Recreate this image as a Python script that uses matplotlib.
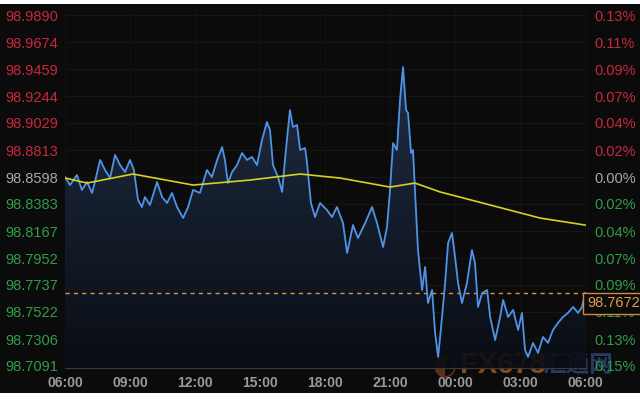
import numpy as np
import matplotlib.pyplot as plt
from matplotlib.patches import Rectangle
from matplotlib.colors import LinearSegmentedColormap
from matplotlib import transforms

# Data (hours after 06:00, price)
hours = [0.00, 0.23, 0.55, 0.78, 1.02, 1.25, 1.38, 1.62, 1.85, 2.08,
         2.31, 2.54, 2.77, 3.00, 3.18, 3.37, 3.55, 3.69, 3.92, 4.25,
         4.48, 4.71, 4.94, 5.17, 5.45, 5.68, 5.91, 6.23, 6.55, 6.78,
         7.02, 7.25, 7.38, 7.52, 7.71, 7.94, 8.17, 8.40, 8.63, 8.86,
         9.09, 9.32, 9.46, 9.60, 9.83, 10.02, 10.15, 10.38, 10.52, 10.71,
         10.85, 11.08, 11.17, 11.35, 11.54, 11.77, 12.09, 12.32, 12.55, 12.83,
         13.02, 13.29, 13.52, 13.85, 14.17, 14.40, 14.68, 14.86, 15.00, 15.14,
         15.32, 15.46, 15.60, 15.74, 15.83, 15.97, 16.06, 16.15, 16.29, 16.48,
         16.62, 16.75, 16.94, 17.08, 17.22, 17.40, 17.54, 17.68, 17.86, 18.00,
         18.14, 18.32, 18.55, 18.78, 18.92, 19.06, 19.25, 19.48, 19.62, 19.85,
         20.08, 20.22, 20.45, 20.68, 20.91, 21.09, 21.23, 21.37, 21.60, 21.83,
         22.06, 22.29, 22.52, 22.75, 22.98, 23.21, 23.45, 23.68, 23.86, 24.00]
price = [98.8598, 98.8534, 98.8614, 98.8495, 98.8558, 98.8471, 98.8558, 98.8734, 98.8654, 98.8590,
         98.8774, 98.8694, 98.8638, 98.8734, 98.8654, 98.8415, 98.8359, 98.8439, 98.8375, 98.8558,
         98.8439, 98.8391, 98.8471, 98.8359, 98.8271, 98.8359, 98.8495, 98.8471, 98.8654, 98.8598,
         98.8734, 98.8837, 98.8734, 98.8550, 98.8638, 98.8694, 98.8790, 98.8734, 98.8758, 98.8694,
         98.8893, 98.9037, 98.8973, 98.8694, 98.8598, 98.8479, 98.8734, 98.9132, 98.8997, 98.9013,
         98.8814, 98.8829, 98.8710, 98.8391, 98.8279, 98.8391, 98.8335, 98.8279, 98.8359, 98.8231,
         98.7992, 98.8215, 98.8112, 98.8231, 98.8359, 98.8231, 98.8040, 98.8200, 98.8495, 98.8869,
         98.8814, 98.9212, 98.9475, 98.9132, 98.9109, 98.8790, 98.8814, 98.8495, 98.8016, 98.7697,
         98.7881, 98.7593, 98.7697, 98.7354, 98.7163, 98.7482, 98.7753, 98.8072, 98.8152, 98.7960,
         98.7753, 98.7593, 98.7753, 98.8016, 98.7912, 98.7562, 98.7673, 98.7697, 98.7482, 98.7298,
         98.7482, 98.7617, 98.7482, 98.7538, 98.7378, 98.7514, 98.7219, 98.7163, 98.7275, 98.7195,
         98.7322, 98.7275, 98.7378, 98.7434, 98.7482, 98.7514, 98.7562, 98.7514, 98.7562, 98.7672]

ma_hours = [0.0, 1.02, 3.14, 5.91, 8.54, 10.85, 12.69, 15.0, 16.15, 17.31, 19.62, 21.92, 24.0]
ma_price = [98.8590, 98.8550, 98.8622, 98.8534, 98.8574, 98.8622, 98.8590, 98.8518, 98.8550,
            98.8479, 98.8375, 98.8271, 98.8215]

y_ticks = [98.9890, 98.9674, 98.9459, 98.9244, 98.9029, 98.8813, 98.8598,
           98.8383, 98.8167, 98.7952, 98.7737, 98.7522, 98.7306, 98.7091]
pct_labels = ["0.13%", "0.11%", "0.09%", "0.07%", "0.04%", "0.02%", "0.00%",
              "0.02%", "0.04%", "0.07%", "0.09%", "0.11%", "0.13%", "0.15%"]
x_ticks = [0, 3, 6, 9, 12, 15, 18, 21, 24]
x_labels = ["06:00", "09:00", "12:00", "15:00", "18:00", "21:00", "00:00", "03:00", "06:00"]
base_price = 98.8598
last_price = 98.7672

RED = "#c8283c"
GREEN = "#2f9e46"
GRAY = "#a8a8a8"
Y_LO, Y_HI = 98.7075, 98.9946
X_HI = 24.09


def label_color(v):
    if abs(v - base_price) < 1e-6:
        return GRAY
    return RED if v > base_price else GREEN


plt.rcParams["font.family"] = ["Liberation Sans", "DejaVu Sans"]

fig = plt.figure(figsize=(6.4, 4.0), dpi=100, facecolor="white")
fig.patches.append(Rectangle((0, 7 / 400), 1, 389 / 400, transform=fig.transFigure,
                             facecolor="#0b0b0c", edgecolor="none", zorder=-10))

# watermark (behind everything else)
fig.text(445 / 640, 1 - 365 / 400, "◐", fontsize=20, color="#c85a20", alpha=0.45,
         ha="center", va="center", family=["DejaVu Sans"], zorder=-5)
fig.text(460 / 640, 1 - 365 / 400, "FX678", fontsize=21, color="#d07a2c", alpha=0.6,
         ha="left", va="center", fontweight="bold", zorder=-5)
fig.text(542 / 640, 1 - 365 / 400, "汇通网", fontsize=17, color="#3f62a8", alpha=0.55,
         ha="left", va="center", family=["Noto Sans CJK SC"], fontweight="bold", zorder=-5)

ax = fig.add_axes([65 / 640, 32 / 400, 522 / 640, 360 / 400])
ax.set_facecolor("none")

# gradient fill under the price line
poly = ax.fill_between(hours, price, Y_LO, color="none")
grad = np.linspace(1, 0, 256).reshape(-1, 1)
cmap = LinearSegmentedColormap.from_list("g", ["#0a0d14", "#22324c"])
img = ax.imshow(grad, extent=[0, X_HI, Y_LO, 98.95], aspect="auto",
                cmap=cmap, zorder=1, origin="upper", alpha=0.9)
img.set_clip_path(poly.get_paths()[0], transform=ax.transData)
ax.set_xlim(0, X_HI)
ax.set_ylim(Y_LO, Y_HI)

for yv in y_ticks:
    ax.axhline(yv, color="#161616", lw=0.8, zorder=0.5)
for xv in x_ticks:
    ax.axvline(xv, color="#121212", lw=0.8, zorder=0.5)

ax.plot(hours, price, color="#4f93e6", lw=1.3, zorder=3)
ax.plot(ma_hours, ma_price, color="#d9d024", lw=1.2, zorder=4)
ax.axhline(last_price, color="#d8984c", lw=1, dashes=(3, 3), zorder=2)

for s in ["top", "right", "left"]:
    ax.spines[s].set_visible(False)
ax.spines["bottom"].set_color("#3a3a3a")

ax.set_yticks(y_ticks)
ax.set_yticklabels([f"{v:.4f}" for v in y_ticks], fontsize=10.5)
for lbl, v in zip(ax.get_yticklabels(), y_ticks):
    lbl.set_color(label_color(v))
ax.tick_params(axis="y", length=0, pad=5)
ax.set_xticks(x_ticks)
ax.set_xticklabels(x_labels, fontsize=10, color="#9a9a9a", fontweight="bold")
ax.tick_params(axis="x", length=0, pad=6)

ax2 = ax.twinx()
ax2.set_ylim(ax.get_ylim())
ax2.set_yticks(y_ticks)
ax2.set_yticklabels(pct_labels, fontsize=10.5)
for lbl, v in zip(ax2.get_yticklabels(), y_ticks):
    lbl.set_color(label_color(v))
ax2.tick_params(axis="y", length=0, pad=5)
for s in ax2.spines.values():
    s.set_visible(False)

# last price box
trans = transforms.blended_transform_factory(ax.transAxes, ax.transData)
ax2.text(1.0, last_price - 0.008, f"{last_price:.4f}", transform=trans, fontsize=10.5,
         color="#e89a48", ha="left", va="center", zorder=10, clip_on=False,
         bbox=dict(boxstyle="square,pad=0.25", facecolor="#0b0b0c", edgecolor="#d08a3c", lw=1))

fig.savefig("out.png", dpi=100, facecolor=fig.get_facecolor())
